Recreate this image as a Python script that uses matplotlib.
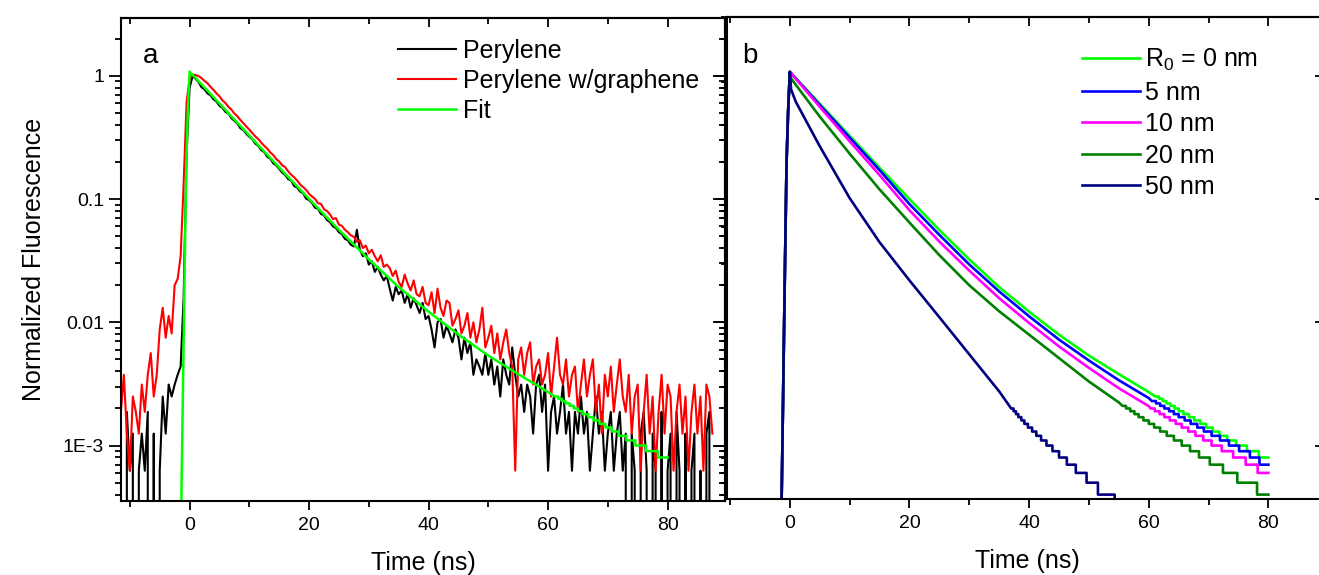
"""Fluorescence decays of perylene (a) and modelled decays vs R0 (b)."""
import numpy as np
import matplotlib
matplotlib.use("Agg")
import matplotlib.pyplot as plt
from matplotlib.ticker import FixedLocator, FixedFormatter, LogLocator, MultipleLocator, NullFormatter

plt.rcParams["font.family"] = ["Liberation Sans", "DejaVu Sans"]
plt.rcParams["mathtext.fontset"] = "custom"
plt.rcParams["mathtext.rm"] = "Liberation Sans"
plt.rcParams["mathtext.default"] = "regular"

# --- panel a : measured histograms, counts per 0.5 ns bin starting at -11.5 ns ---
T0_DATA, DT_DATA, PEAK_COUNTS = -11.5, 0.5, 1600.0
perylene_counts = [
    2, 0, 3, 1, 2, 0, 1, 2, 1, 3,
    0, 2, 0, 1, 4, 2, 5, 4, 5, 6,
    7, 25, 380, 1280, 1590, 1510, 1420, 1290, 1240, 1150,
    1110, 1030, 990, 915, 880, 815, 790, 725, 690, 655,
    600, 580, 540, 512, 488, 450, 432, 398, 384, 352,
    340, 312, 300, 281, 262, 251, 232, 226, 204, 198,
    184, 178, 161, 157, 148, 136, 133, 121, 118, 108,
    104, 96, 93, 86, 83, 76, 74, 68, 66, 90,
    62, 55, 58, 47, 50, 41, 45, 39, 35, 38,
    30, 24, 31, 27, 29, 23, 27, 21, 25, 22,
    19, 23, 17, 18, 14, 10, 16, 17, 12, 15,
    13, 11, 14, 12, 8, 12, 9, 11, 6, 8,
    7, 6, 9, 6, 8, 5, 7, 4, 8, 6,
    5, 10, 6, 4, 5, 3, 5, 4, 2, 5,
    6, 3, 5, 1, 3, 4, 2, 3, 5, 2,
    3, 1, 3, 2, 4, 2, 3, 1, 2, 4,
    2, 3, 1, 2, 3, 1, 2, 3, 1, 2,
    0, 2, 1, 0, 2, 3, 1, 0, 2, 1,
    0, 3, 0, 1, 2, 0, 3, 1, 0, 2,
    0, 1, 2, 0, 1, 0, 2, 3, 0,
]
graphene_counts = [
    3, 6, 2, 1, 4, 3, 2, 5, 3, 6,
    9, 4, 6, 14, 21, 12, 18, 13, 32, 36,
    55, 210, 980, 1500, 1640, 1620, 1590, 1530, 1450, 1390,
    1300, 1230, 1150, 1090, 1010, 960, 895, 850, 790, 750,
    700, 660, 620, 585, 548, 515, 490, 458, 432, 410,
    382, 364, 338, 322, 300, 290, 268, 252, 240, 226,
    210, 200, 190, 176, 168, 160, 148, 146, 132, 128,
    120, 110, 112, 99, 97, 90, 86, 81, 79, 72,
    74, 64, 67, 58, 62, 55, 50, 56, 45, 47,
    44, 38, 42, 34, 31, 39, 33, 29, 35, 27,
    26, 31, 23, 22, 28, 19, 30, 21, 18, 24,
    23, 15, 17, 20, 13, 15, 19, 12, 16, 11,
    14, 21, 10, 12, 15, 9, 13, 8, 11, 14,
    9, 7, 1, 8, 10, 6, 9, 11, 5, 7,
    8, 5, 6, 9, 4, 7, 12, 6, 5, 8,
    4, 6, 7, 3, 5, 8, 4, 6, 8, 3,
    5, 2, 6, 4, 7, 3, 5, 8, 4, 3,
    6, 2, 4, 5, 1, 3, 6, 2, 4, 1,
    3, 6, 2, 5, 4, 1, 3, 5, 2, 4,
    1, 3, 5, 2, 4, 1, 5, 4, 2,
]

# --- model curves: shared rise, sampled decay, then the 1e-4 quantised tail ---
rise_t = [-1.4, -0.85, -0.55, -0.3]
rise_y = [3e-4, 0.022, 0.2, 0.5]

fit_t = [0, 5, 10, 15, 20, 25, 30, 35, 40, 45, 50, 55, 60]
fit_y = [1.08, 0.596, 0.327, 0.180, 0.100, 0.0562, 0.0324, 0.0193, 0.0122,
         0.00794, 0.00537, 0.00380, 0.00272]
fit_step_t = [61.1, 61.7, 62.3, 62.9, 63.6, 64.3, 65.0, 65.8, 66.7, 67.6,
              68.6, 69.6, 70.7, 71.8, 73.1, 74.6, 76.4, 78.4]
fit_step_y = [2.5, 2.4, 2.3, 2.2, 2.1, 2.0, 1.9, 1.8, 1.7, 1.6,
              1.5, 1.4, 1.3, 1.2, 1.1, 1.0, 0.9, 0.8]          # x 1e-3

r5_t = fit_t
r5_y = [1.08, 0.582, 0.316, 0.172, 0.0912, 0.0513, 0.0295, 0.0178, 0.0112,
        0.00724, 0.00490, 0.00339, 0.00243]
r5_step_t = [60.5, 61.2, 61.9, 62.6, 63.4, 64.2, 65.0, 66.0, 67.0, 68.1,
             69.2, 70.5, 71.9, 73.4, 75.1, 76.9, 78.5]
r5_step_y = [2.3, 2.2, 2.1, 2.0, 1.9, 1.8, 1.7, 1.6, 1.5, 1.4,
             1.3, 1.2, 1.1, 1.0, 0.9, 0.8, 0.7]

r10_t = fit_t
r10_y = [1.08, 0.562, 0.295, 0.157, 0.0813, 0.0452, 0.0263, 0.0157, 0.00989,
         0.00638, 0.00427, 0.00292, 0.00209]
r10_step_t = [60.3, 61.0, 61.8, 62.6, 63.5, 64.5, 65.5, 66.6, 67.8, 69.1,
              70.5, 72.2, 74.1, 76.2, 78.2]
r10_step_y = [2.0, 1.9, 1.8, 1.7, 1.6, 1.5, 1.4, 1.3, 1.2, 1.1,
              1.0, 0.9, 0.8, 0.7, 0.6]

r20_t = [0, 0.2, 5, 10, 15, 20, 25, 30, 35, 40, 45, 50, 55]
r20_y = [1.08, 0.955, 0.468, 0.234, 0.120, 0.0646, 0.0351, 0.0200, 0.0123,
         0.00794, 0.00513, 0.00331, 0.00224]
r20_step_t = [55.6, 56.2, 56.9, 57.6, 58.3, 59.1, 60.0, 60.9, 61.9, 63.0,
              64.2, 65.5, 66.9, 68.4, 70.2, 72.4, 74.8, 78.1]
r20_step_y = [2.1, 2.0, 1.9, 1.8, 1.7, 1.6, 1.5, 1.4, 1.3, 1.2,
              1.1, 1.0, 0.9, 0.8, 0.7, 0.6, 0.5, 0.4]

r50_t = [0, 0.2, 1, 5, 10, 15, 20, 25, 30, 35]
r50_y = [1.08, 0.78, 0.617, 0.269, 0.102, 0.0447, 0.0219, 0.0110, 0.0055, 0.00275]
r50_step_t = [37.0, 37.4, 37.8, 38.2, 38.7, 39.2, 39.8, 40.5, 41.2, 42.0,
              42.9, 43.9, 45.0, 46.3, 47.8, 49.6, 51.5, 54.3]
r50_step_y = [2.0, 1.9, 1.8, 1.7, 1.6, 1.5, 1.4, 1.3, 1.2, 1.1,
              1.0, 0.9, 0.8, 0.7, 0.6, 0.5, 0.4, 0.3]

MODEL_END = 80.0
R50_END = 56.0

legend_a = ["Perylene", "Perylene w/graphene", "Fit"]
legend_b = [r"R$_0$ = 0 nm", "5 nm", "10 nm", "20 nm", "50 nm"]
colors_b = ["#00ff00", "#0000ff", "#ff00ff", "#008000", "#000080"]

ytick_vals = [1e-3, 1e-2, 1e-1, 1]
ytick_text = ["1E-3", "0.01", "0.1", "1"]


def model_curve(body_t, body_y, step_t, step_y, t_end):
    ts = np.append(step_t, t_end)
    tail_x = np.repeat(ts, 2)[1:-1]
    tail_y = np.repeat(np.asarray(step_y) * 1e-3, 2)
    x = np.concatenate([rise_t, body_t, tail_x])
    y = np.concatenate([rise_y, body_y, tail_y])
    return x, y


def style_axes(ax, xlim, ylim, ylabels=True):
    ax.set_yscale("log")
    ax.set_xlim(*xlim)
    ax.set_ylim(*ylim)
    for sp in ax.spines.values():
        sp.set_linewidth(1.5)
    ax.xaxis.set_major_locator(MultipleLocator(20))
    ax.xaxis.set_minor_locator(MultipleLocator(10, offset=10))
    ax.yaxis.set_major_locator(FixedLocator(ytick_vals))
    ax.yaxis.set_minor_locator(LogLocator(base=10, subs=np.arange(2, 10)))
    ax.yaxis.set_minor_formatter(NullFormatter())
    if ylabels:
        ax.yaxis.set_major_formatter(FixedFormatter(ytick_text))
    else:
        ax.yaxis.set_major_formatter(NullFormatter())
    ax.tick_params(axis="y", which="major", direction="out", length=8.5, width=1.3,
                   labelsize=14, pad=4)
    ax.tick_params(axis="y", which="minor", direction="out", length=4.5, width=1.3)
    ax.tick_params(axis="x", which="major", direction="out", length=6.5, width=1.3,
                   labelsize=14, pad=5)
    ax.tick_params(axis="x", which="minor", direction="out", length=4, width=1.3)
    ax.set_xlabel("Time (ns)", fontsize=18, labelpad=12)

    top = ax.secondary_xaxis("top")
    top.xaxis.set_major_locator(MultipleLocator(20))
    top.xaxis.set_minor_locator(MultipleLocator(10, offset=10))
    top.tick_params(which="major", direction="in", length=6.5, width=1.3, labeltop=False)
    top.tick_params(which="minor", direction="in", length=4, width=1.3)
    top.spines["top"].set_linewidth(1.5)

    right = ax.secondary_yaxis("right")
    right.yaxis.set_major_locator(FixedLocator(ytick_vals))
    right.yaxis.set_minor_locator(LogLocator(base=10, subs=np.arange(2, 10)))
    right.yaxis.set_major_formatter(NullFormatter())
    right.yaxis.set_minor_formatter(NullFormatter())
    right.tick_params(which="major", direction="in", length=8.5, width=1.3, labelright=False)
    right.tick_params(which="minor", direction="in", length=4.5, width=1.3)
    right.spines["right"].set_linewidth(1.5)


fig = plt.figure(figsize=(13.19, 5.75), dpi=100)
ax_a = fig.add_axes([0.0921, 0.1287, 0.4575, 0.8400])
ax_b = fig.add_axes([0.5512, 0.1317, 0.4549, 0.8393])

# panel a
t_data = T0_DATA + DT_DATA * np.arange(len(perylene_counts))
t_data_g = T0_DATA + DT_DATA * np.arange(len(graphene_counts))
ax_a.plot(t_data, np.array(perylene_counts) / PEAK_COUNTS, color="black", lw=1.5,
          label=legend_a[0])
ax_a.plot(t_data_g, np.array(graphene_counts) / PEAK_COUNTS, color="red", lw=1.5,
          label=legend_a[1])
fx, fy = model_curve(fit_t, fit_y, fit_step_t, fit_step_y, MODEL_END)
ax_a.plot(fx, fy, color="#00ff00", lw=1.8, label=legend_a[2])
style_axes(ax_a, (-11.4, 89.6), (3.55e-4, 2.94))
ax_a.set_ylabel("Normalized Fluorescence", fontsize=18, labelpad=12)
ax_a.text(0.036, 0.907, "a", transform=ax_a.transAxes, fontsize=20, va="baseline")
ax_a.legend(loc="upper left", bbox_to_anchor=(0.4587, 0.956), frameon=False,
            fontsize=18, handlelength=2.32, handletextpad=0.26, labelspacing=0.23,
            borderpad=0, borderaxespad=0)

# panel b
curves_b = [
    (fit_t, fit_y, fit_step_t, fit_step_y, MODEL_END),
    (r5_t, r5_y, r5_step_t, r5_step_y, MODEL_END),
    (r10_t, r10_y, r10_step_t, r10_step_y, MODEL_END),
    (r20_t, r20_y, r20_step_t, r20_step_y, MODEL_END),
    (r50_t, r50_y, r50_step_t, r50_step_y, R50_END),
]
for (bt, by, st, sy, te), c, lab in zip(curves_b, colors_b, legend_b):
    x, y = model_curve(bt, by, st, sy, te)
    ax_b.plot(x, y, color=c, lw=1.9, label=lab)
style_axes(ax_b, (-10.5, 89.8), (3.666e-4, 3.03), ylabels=False)
ax_b.text(0.0245, 0.904, "b", transform=ax_b.transAxes, fontsize=20, va="baseline")
ax_b.legend(loc="upper left", bbox_to_anchor=(0.591, 0.9375), frameon=False,
            fontsize=18, handlelength=2.32, handletextpad=0.2, labelspacing=0.3,
            borderpad=0, borderaxespad=0)

fig.savefig("out.png", dpi=100)
